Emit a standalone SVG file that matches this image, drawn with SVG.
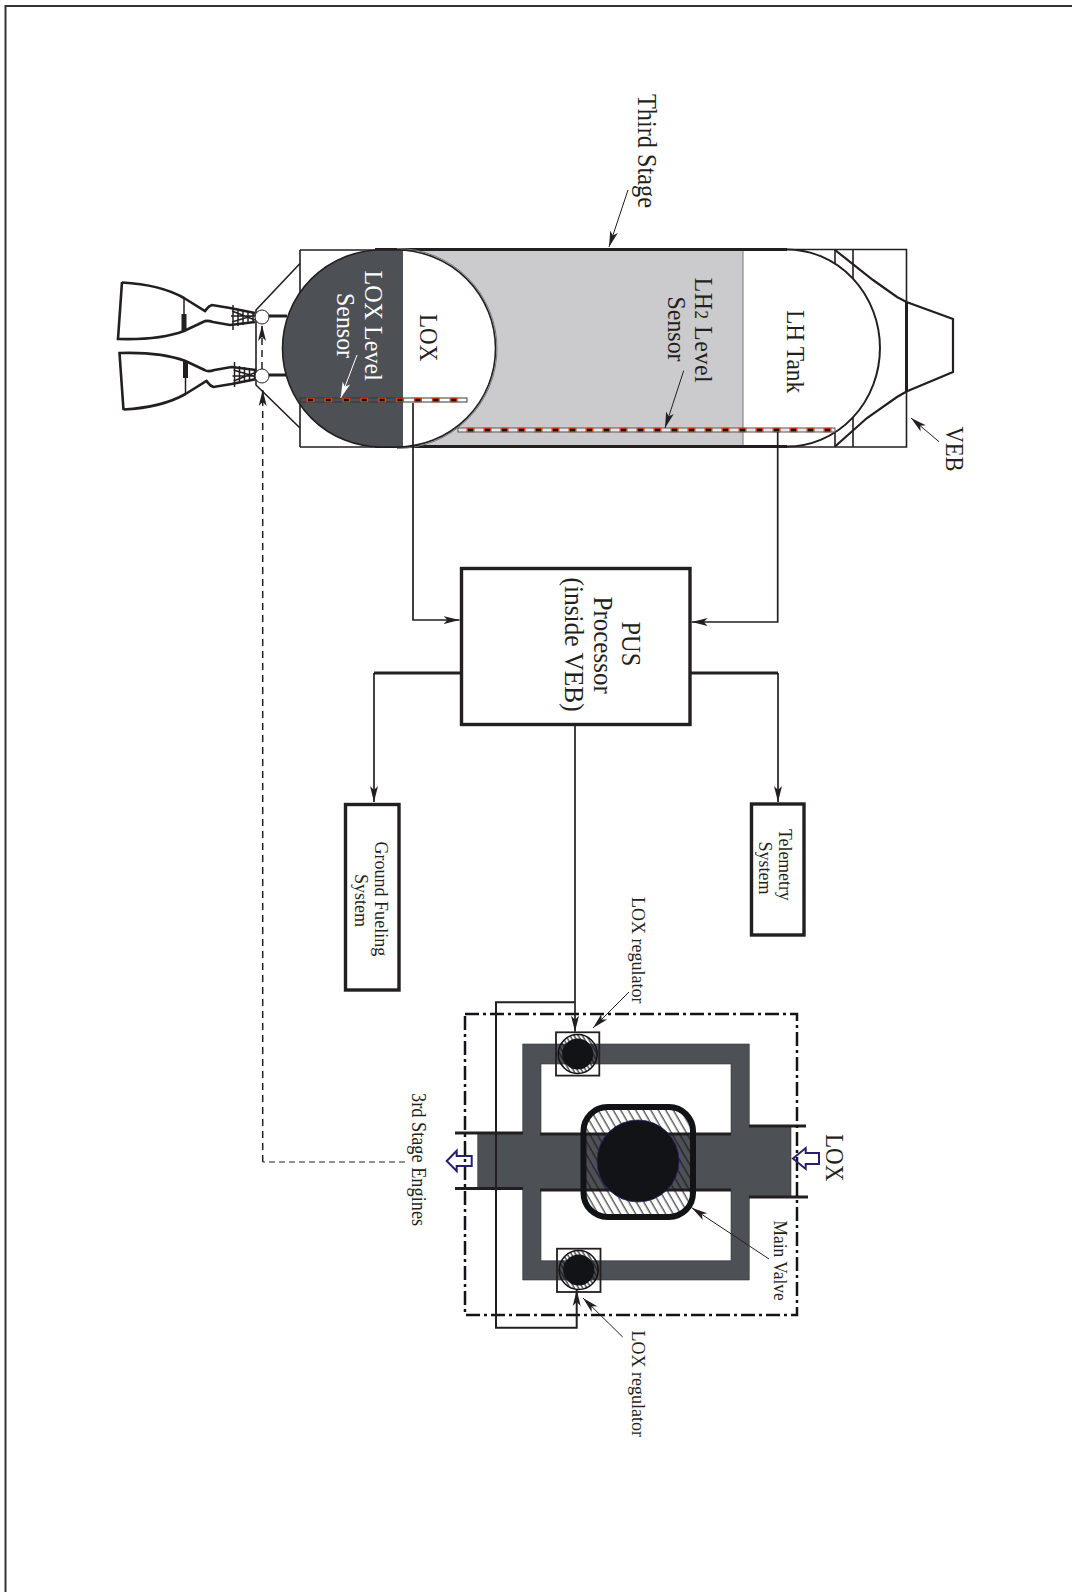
<svg xmlns="http://www.w3.org/2000/svg" width="1072" height="1592" viewBox="0 0 1072 1592">
<style>
text{font-family:"Liberation Serif","Times New Roman",serif;fill:#231f20}
.w{fill:#fff}
.ln{fill:none;stroke:#231f20;stroke-width:1.6}
.th{fill:none;stroke:#231f20;stroke-width:3}
.box{fill:#fff;stroke:#231f20;stroke-width:3.4}
.lead{fill:none;stroke:#231f20;stroke-width:1;marker-end:url(#ah)}
.flow{fill:none;stroke:#231f20;stroke-width:1.7;marker-end:url(#ah)}
.dash{fill:none;stroke:#231f20;stroke-width:1.5;stroke-dasharray:7 5}
.hol{fill:none;stroke:#2a1f6e;stroke-width:2}
.dark{fill:#4d5156}
.sd{fill:none;stroke:#d8400e;stroke-width:4.6}
.sk{fill:none;stroke:#111316;stroke-width:2.4}
.eng{fill:none;stroke:#231f20;stroke-width:2.6}
</style>
<defs>
<marker id="ah" markerUnits="userSpaceOnUse" markerWidth="17" markerHeight="10" refX="16" refY="5" orient="auto"><path d="M0 1L16 5L0 9L4 5Z" fill="#231f20"/></marker>
<marker id="awh" markerUnits="userSpaceOnUse" markerWidth="17" markerHeight="10" refX="16" refY="5" orient="auto"><path d="M0 1L16 5L0 9L4 5Z" fill="#fff"/></marker>
<pattern id="hatch" width="6.500" height="6.500" patternUnits="userSpaceOnUse" patternTransform="rotate(-30)"><line x1="2" y1="0" x2="2" y2="6.500" stroke="#111316" stroke-width="1"/></pattern>
<pattern id="hatch2" width="3.600" height="3.600" patternUnits="userSpaceOnUse" patternTransform="rotate(-30)"><line x1="1" y1="0" x2="1" y2="3.600" stroke="#111316" stroke-width="1.100"/></pattern>
<clipPath id="loxclip"><path d="M381 250A98.500 98.500 0 0 0 381 447H397A98.500 98.500 0 0 0 397 250Z"/></clipPath>
<g id="engine">
<path d="M122 282.500C150 284 170 290 184 298L205 311C207 309 208 306 212 305L230 308L255 313" class="eng"/>
<path d="M122 282L118 339C150 340 168 337 184 331L203 322C206 320 210 321 213 322L230 325L255 322" class="eng"/>
<path d="M184 298V315" fill="none" stroke="#231f20" stroke-width="1.500"/>
<path d="M184 314V331" fill="none" stroke="#231f20" stroke-width="5"/>
<path d="M233 305V330M238 309V326M243 310V325M248 311V324M253 312V323M231 316H255M232 311L255 320M232 322L255 315" fill="none" stroke="#231f20" stroke-width="1.500"/>
</g>
</defs>
<rect width="1072" height="1592" fill="#fff"/>
<path d="M5.500 1592V6H1072" fill="none" stroke="#333" stroke-width="2"/>

<g id="third-stage">
<rect x="397" y="250" width="346" height="197" fill="#cbcbcd"/>
<path d="M743 250V447" stroke="#777" stroke-width="1"/>
<path d="M300 250H380M300 447H380M300 250V447M787 249.500H906.500V447H787" class="ln"/>
<path d="M835 249.500V265M853 249.500V280M835 428V447M853 415V447" class="ln"/>
<path d="M787 249.500A93 98.500 0 0 1 787 446.500" fill="#fff" stroke="#231f20" stroke-width="2"/>
<path d="M375 249.500H787M375 446.500H787" class="th" stroke-width="2.600"/>
<path d="M381 250A98.500 98.500 0 0 0 381 447H397A98.500 98.500 0 0 0 397 250Z" fill="#fff"/>
<rect x="280" y="248" width="123" height="201" class="dark" clip-path="url(#loxclip)"/>
<path d="M381 250A98.500 98.500 0 0 0 381 447H397A98.500 98.500 0 0 0 397 250Z" fill="none" stroke="#231f20" stroke-width="1.600"/>
<path d="M397 248.500A100 100 0 0 1 397 448.500" fill="none" stroke="#777" stroke-width="1"/>
<path d="M906.500 302V391.500" class="th" stroke-width="2.400"/>
<path d="M835 250L873 280L897 297L906.500 302L953 319V372L906.500 391.500L897 397L867 418L835 446.500" fill="none" stroke="#231f20" stroke-width="2.200"/>
<path d="M300 263.500L256 310V385L300 428" class="ln" stroke-width="2"/>
<rect x="403" y="398" width="64" height="4" fill="#fff"/>
<rect x="300" y="398" width="167" height="4" fill="none" stroke="#33373b" stroke-width="1"/>
<path d="M306.500 400H467" class="sd" stroke-dasharray="8 9.900"/>
<path d="M308 400H467" class="sk" stroke-dasharray="5 12.900"/>
<rect x="458" y="428" width="377" height="4" fill="#e8e8ea" stroke="#55595d" stroke-width="1"/>
<path d="M466.500 430H835" class="sd" stroke-dasharray="8 9"/>
<path d="M468 430H835" class="sk" stroke-dasharray="5 12"/>
<path d="M269 316H287M269 375H286" class="th"/>
<use href="#engine"/>
<use href="#engine" transform="translate(1.500 692) scale(1 -1)"/>
<circle cx="262" cy="317" r="7" fill="#fff" stroke="#231f20" stroke-width="1"/>
<circle cx="262" cy="376" r="7" fill="#fff" stroke="#231f20" stroke-width="1"/>
<text transform="translate(637.500 94) rotate(90) scale(.92 1)" font-size="26.400">Third Stage</text>
<text transform="translate(365 270.500) rotate(90) scale(.92 1)" font-size="26.200" class="w">LOX Level</text>
<text transform="translate(337 293) rotate(90) scale(.92 1)" font-size="26" class="w">Sensor</text>
<text transform="translate(420 314) rotate(90) scale(.92 1)" font-size="25">LOX</text>
<text transform="translate(786.500 310) rotate(90) scale(.92 1)" font-size="25.500">LH Tank</text>
<text transform="translate(695 277.500) rotate(90) scale(.92 1)" font-size="26" letter-spacing=".6">LH<tspan font-size="18.500">2</tspan> Level</text>
<text transform="translate(667.500 296.500) rotate(90) scale(.92 1)" font-size="26">Sensor</text>
<text transform="translate(945.500 426.500) rotate(90) scale(.92 1)" font-size="24.500">VEB</text>
</g>

<g id="pus-processor">
<rect x="461.500" y="568.500" width="228.500" height="156" class="box"/>
<text transform="translate(621.500 621.500) rotate(90) scale(.92 1)" font-size="26.600">PUS</text>
<text transform="translate(593.500 596.500) rotate(90) scale(.92 1)" font-size="27.200">Processor</text>
<text transform="translate(565 577.500) rotate(90) scale(.92 1)" font-size="27.600">(inside VEB)</text>
</g>
<g id="ground-fueling">
<rect x="345.500" y="804.500" width="53.500" height="185.500" class="box"/>
<text transform="translate(375 841.500) rotate(90) scale(.92 1)" font-size="19.600">Ground Fueling</text>
<text transform="translate(355 874) rotate(90) scale(.92 1)" font-size="19.600">System</text>
</g>
<g id="telemetry">
<rect x="751.500" y="804" width="52.500" height="131" class="box"/>
<text transform="translate(779 829) rotate(90) scale(.92 1)" font-size="19.300">Telemetry</text>
<text transform="translate(759 841.500) rotate(90) scale(.92 1)" font-size="19.600">System</text>
</g>

<g id="main-valve-assembly">
<path d="M522.700 1044H749.300V1126H791V1196.700H749.300V1280H522.700V1188.500H477.700V1133H522.700ZM541 1064V1134H731V1064ZM541 1190V1260.700H731V1190Z" class="dark" fill-rule="evenodd" stroke="#333" stroke-width="0.600"/>
<path d="M455 1133H523M455 1188.500H523M540 1134H731M540 1190H731M749 1126H806M749 1197H808" class="th"/>
<rect x="465" y="1014" width="332" height="301" fill="none" stroke="#111316" stroke-width="2.500" stroke-dasharray="14 4 3 4"/>
<rect x="583.500" y="1107" width="109.500" height="110" rx="24" fill="url(#hatch)" stroke="#111316" stroke-width="6"/>
<circle cx="638" cy="1161" r="41" fill="#111316" stroke="#2a1f6e" stroke-width="0.800"/>
<g id="regulator-top">
<rect x="556" y="1032.300" width="43.300" height="43.300" fill="none" stroke="#231f20" stroke-width="1.800"/>
<circle cx="577.700" cy="1054" r="19.500" fill="url(#hatch2)" stroke="#111316" stroke-width="1.500"/>
<circle cx="577.700" cy="1054" r="15.500" fill="#111316"/>
</g>
<g id="regulator-bottom">
<rect x="557" y="1248.700" width="43.500" height="43.300" fill="none" stroke="#231f20" stroke-width="1.800"/>
<circle cx="578.700" cy="1270" r="19.500" fill="url(#hatch2)" stroke="#111316" stroke-width="1.500"/>
<circle cx="578.700" cy="1270" r="15.500" fill="#111316"/>
</g>
<path d="M793 1158.500L805.700 1148V1153H819V1164H805.700V1169Z" class="hol"/>
<path d="M446.700 1161L456.700 1150.700V1156H471.700V1166H456.700V1171Z" class="hol"/>
<text transform="translate(826 1134) rotate(90) scale(.92 1)" font-size="25">LOX</text>
<text transform="translate(774 1220.500) rotate(90) scale(.92 1)" font-size="18.900">Main Valve</text>
<text transform="translate(632 897) rotate(90) scale(.92 1)" font-size="19.600">LOX regulator</text>
<text transform="translate(632 1330.500) rotate(90) scale(.92 1)" font-size="19.600">LOX regulator</text>
<text transform="translate(412 1093) rotate(90) scale(.92 1)" font-size="19.900">3rd Stage Engines</text>
</g>

<g id="connectors">
<path d="M628 190L609 247" class="lead"/>
<path d="M939 441.700L911 418" class="lead"/>
<path d="M683.700 370.700L665 428" class="lead"/>
<path d="M357 355L340.700 398" fill="none" stroke="#fff" stroke-width="1" marker-end="url(#awh)"/>
<path d="M629 992L593 1028" class="lead"/>
<path d="M622.700 1337L583 1298" class="lead"/>
<path d="M769 1259L691.700 1207.700" class="lead"/>
<path d="M413 403V620H459.500" class="flow"/>
<path d="M777.700 432V622H691.700" class="flow"/>
<path d="M374 673V802" class="flow"/>
<path d="M461 673H374" class="th"/>
<path d="M778 673V802" class="flow"/>
<path d="M691 673H778" class="th"/>
<path d="M575 726V1031.700" class="flow"/>
<path d="M575 1002.300H496V1327.700H576.700V1290" class="flow" style="stroke-width:2"/>
<path d="M405 1162H262.700" class="dash" style="stroke-width:1.100;stroke-dasharray:6 4"/>
<path d="M262.700 1162V391" class="dash"/>
<path d="M262.700 403V390" fill="none" stroke="#231f20" stroke-width="1.500" marker-end="url(#ah)"/>
<path d="M262 369V325" class="dash" marker-end="url(#ah)"/>
</g>
</svg>
